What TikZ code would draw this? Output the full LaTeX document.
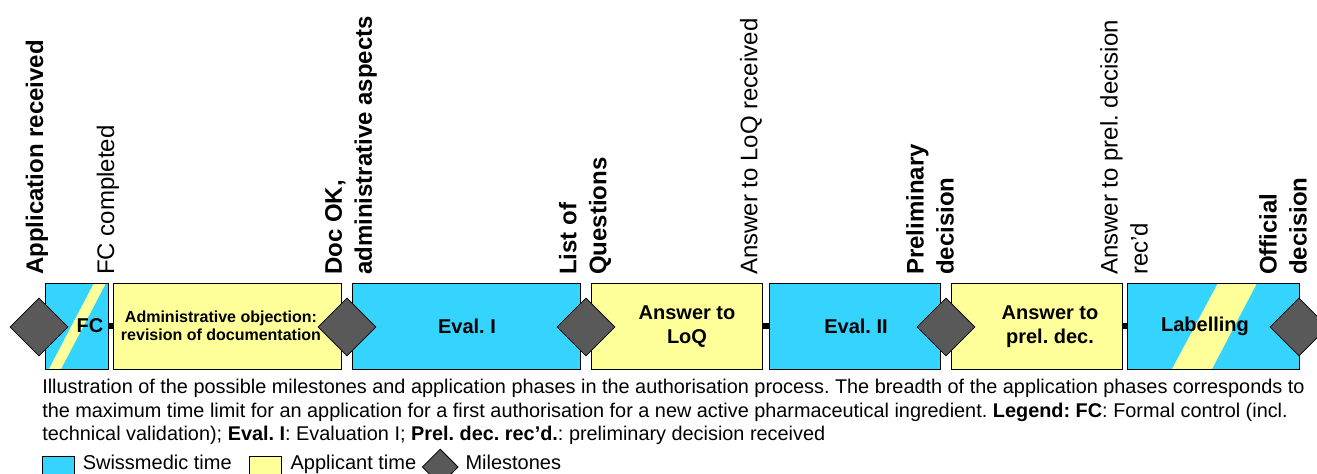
\documentclass[tikz,border=0pt]{standalone}
\usepackage{fontspec}
\setmainfont{Liberation Sans}
\usetikzlibrary{shapes.geometric,positioning}
\definecolor{swiss}{RGB}{53,212,255}
\definecolor{appl}{RGB}{255,255,153}
\definecolor{mile}{RGB}{89,89,89}
\frenchspacing

\begin{document}
\begin{tikzpicture}[x=0.75pt,y=-0.75pt,font=\fontsize{15}{18}\selectfont\bfseries]
\tikzset{ph/.style={draw=black,line width=0.75pt,anchor=north west,minimum height=64.5pt,inner sep=0pt,outer sep=0pt},
  ms/.style={diamond,aspect=1,draw=black,line width=0.6pt,fill=mile,minimum width=43.5pt,minimum height=43.5pt,inner sep=0pt},
  vb/.style={rotate=90,anchor=west,align=left,inner sep=0pt,font=\fontsize{18}{22.5}\selectfont\bfseries},
  vn/.style={vb,font=\fontsize{18}{22.5}\selectfont},
  tag/.style={align=center,inner sep=0pt},
  lnk/.style={line width=4.5pt},
  sq/.style={draw=black,line width=0.75pt,minimum width=24pt,minimum height=16.5pt,inner sep=0pt},
  lt/.style={inner sep=0pt,text height=1.1ex,text depth=0.25ex,font=\fontsize{15}{18}\selectfont}}
\useasboundingbox (0,0) rectangle (1317,474);
% phases
\node[ph,fill=swiss,minimum width=47.25pt] (fc) at (45,283) {};
\node[ph,fill=appl,minimum width=171pt,right=3.75pt of fc] (adm) {};
\node[ph,fill=swiss,minimum width=171pt,right=8.25pt of adm] (ev1) {};
\node[ph,fill=appl,minimum width=128.25pt,right=8.25pt of ev1] (loq) {};
\node[ph,fill=swiss,minimum width=128.25pt,right=5.25pt of loq] (ev2) {};
\node[ph,fill=appl,minimum width=128.25pt,right=8.25pt of ev2] (pd) {};
\node[ph,fill=swiss,minimum width=129pt,right=3.75pt of pd] (lab) {};
% stripes (mixed time)
\begin{scope}
\clip (fc.south west) rectangle (fc.north east);
\fill[appl] (49,369) -- (61,369) -- (106,283) -- (94,283) -- cycle;
\end{scope}
\begin{scope}
\clip (lab.south west) rectangle (lab.north east);
\fill[appl] (1172,369) -- (1212,369) -- (1257,283) -- (1218,283) -- cycle;
\end{scope}
\draw[line width=0.75pt] (fc.south west) rectangle (fc.north east);
\draw[line width=0.75pt] (lab.south west) rectangle (lab.north east);
\draw[lnk] (fc.east) -- (adm.west);
\draw[lnk] (loq.east) -- (ev2.west);
\draw[lnk] (pd.east) -- (lab.west);
% phase texts
\node[tag] (tfc) at (90,326) {FC};
\node[tag,font=\fontsize{12}{13.5}\selectfont\bfseries] (tadm) at (221,326) {Administrative objection:\\revision of documentation};
\node[tag] (tev1) at (467,326) {Eval. I};
\node[tag] (tloq) at (687,327) {Answer to\\LoQ};
\node[tag] (tev2) at (856,326) {Eval. II};
\node[tag] (tpd) at (1050,327) {Answer to\\prel. dec.};
\node[tag] (tlab) at (1205,326) {Labelling};
% milestones
\node[ms] (m1) at (39,327) {};
\node[ms] (m2) at (347,327) {};
\node[ms] (m3) at (586,327) {};
\node[ms] (m4) at (946,327) {};
\node[ms] (m5) at (1299,327) {};
% milestone labels
\node[vb] (l1) at (37,275) {Application received};
\node[vn] (l2) at (108,275) {FC completed};
\node[vb] (l3) at (351,275) {Doc OK,\\administrative aspects};
\node[vb] (l4) at (585,275) {List of\\Questions};
\node[vn] (l5) at (751,275) {Answer to LoQ received};
\node[vb] (l6) at (930,275) {Preliminary\\decision};
\node[vn] (l7) at (1124,275) {Answer to prel. decision\\rec’d};
\node[vb] (l8) at (1283,275) {Official\\decision};
% caption
\node[anchor=north west,align=left,inner sep=0pt,font=\fontsize{14.9}{17.6}\selectfont] (cap) at (42,379)
 {Illustration of the possible milestones and application phases in the authorisation process. The breadth of the application phases corresponds to\\
  the maximum time limit for an application for a first authorisation for a new active pharmaceutical ingredient. \textbf{Legend: FC}: Formal control (incl.\\
  technical validation); \textbf{Eval. I}: Evaluation I; \textbf{Prel. dec. rec’d.}: preliminary decision received};
% legend
\node[sq,fill=swiss] (lsw) at (58,467) {};
\node[lt,right=6pt of lsw] (tsw) {Swissmedic time};
\node[sq,fill=appl,right=13pt of tsw] (lap) {};
\node[lt,right=6pt of lap] (tap) {Applicant time};
\node[ms,minimum width=27pt,minimum height=27pt,right=4pt of tap] (lms) {};
\node[lt,right=5pt of lms] (tms) {Milestones};
\end{tikzpicture}
\end{document}
